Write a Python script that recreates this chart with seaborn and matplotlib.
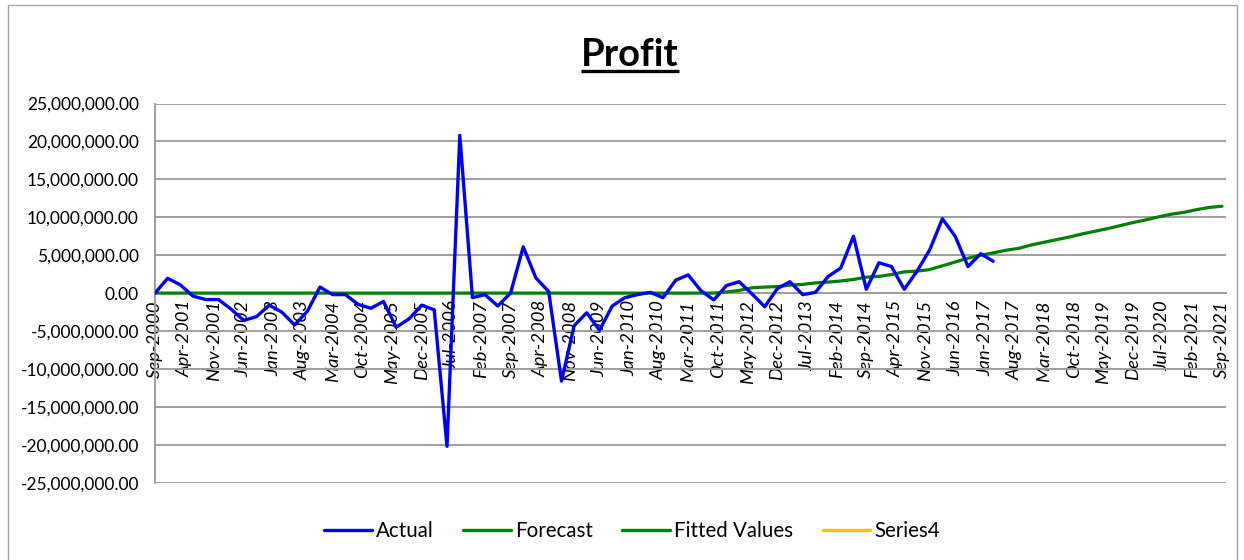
import matplotlib
matplotlib.use("Agg")
import matplotlib.pyplot as plt
import matplotlib.dates as mdates
from matplotlib.lines import Line2D
from matplotlib.patches import Rectangle
from matplotlib.ticker import FuncFormatter, MultipleLocator, FixedLocator, FixedFormatter
import seaborn as sns
import pandas as pd
import numpy as np

# ---- data (values in millions) ----
actual = [0.0, 1.95, 1.1, -0.4, -0.85, -0.85, -2.1, -3.6, -3.1, -1.6,
          -2.5, -4.2, -2.4, 0.8, -0.2, -0.2, -1.5, -2.0, -1.1, -4.5,
          -3.4, -1.6, -2.2, -20.2, 20.8, -0.6, -0.2, -1.7, 0.0, 6.1,
          2.0, 0.2, -11.6, -4.3, -2.6, -4.9, -1.7, -0.6, -0.2, 0.1,
          -0.6, 1.7, 2.4, 0.3, -0.9, 1.0, 1.5, -0.1, -1.8, 0.6,
          1.5, -0.2, 0.1, 2.2, 3.3, 7.5, 0.5, 4.0, 3.5, 0.5,
          2.9, 5.7, 9.8, 7.5, 3.5, 5.2, 4.2]

fitted = [0.0] * 45 + [0.15, 0.35, 0.7, 0.8, 0.85, 1.05, 1.15, 1.35, 1.45, 1.6,
                       1.8, 2.1, 2.2, 2.45, 2.8, 2.9, 3.1, 3.6, 4.1, 4.6,
                       5.0, 5.3]

forecast = [5.3, 5.65, 5.9, 6.35, 6.7, 7.05, 7.4, 7.8, 8.15, 8.5,
            8.9, 9.3, 9.65, 10.05, 10.4, 10.65, 11.0, 11.3, 11.45]

series4 = []

tick_labels = ["Sep-2000", "Apr-2001", "Nov-2001", "Jun-2002", "Jan-2003", "Aug-2003",
               "Mar-2004", "Oct-2004", "May-2005", "Dec-2005", "Jul-2006", "Feb-2007",
               "Sep-2007", "Apr-2008", "Nov-2008", "Jun-2009", "Jan-2010", "Aug-2010",
               "Mar-2011", "Oct-2011", "May-2012", "Dec-2012", "Jul-2013", "Feb-2014",
               "Sep-2014", "Apr-2015", "Nov-2015", "Jun-2016", "Jan-2017", "Aug-2017",
               "Mar-2018", "Oct-2018", "May-2019", "Dec-2019", "Jul-2020", "Feb-2021",
               "Sep-2021"]

quarters = pd.date_range("2000-09-01", "2021-09-01", freq="3MS")

df_actual = pd.DataFrame({"date": quarters[:len(actual)], "value": np.array(actual) * 1e6})
df_fitted = pd.DataFrame({"date": quarters[:len(fitted)], "value": np.array(fitted) * 1e6})
df_forecast = pd.DataFrame({"date": quarters[len(fitted) - 1:], "value": np.array(forecast) * 1e6})

# ---- style ----
sns.set_style("white")
plt.rcParams["font.family"] = ["Lato", "DejaVu Sans"]
plt.rcParams["text.color"] = "black"

W, H = 1244, 560
fig = plt.figure(figsize=(W / 100, H / 100), dpi=100)

left_px, right_px, top_px, bottom_px = 155, 1226, 103.5, 482.7
ax = fig.add_axes([left_px / W, 1 - bottom_px / H,
                   (right_px - left_px) / W, (bottom_px - top_px) / H])

grid_c = "#9e9e9e"

sns.lineplot(data=df_actual, x="date", y="value", ax=ax, color="#0000FF",
             linewidth=2.4, estimator=None, zorder=4)
sns.lineplot(data=df_forecast, x="date", y="value", ax=ax, color="#008000",
             linewidth=2.3, estimator=None, zorder=3)
sns.lineplot(data=df_fitted, x="date", y="value", ax=ax, color="#008000",
             linewidth=2.3, estimator=None, zorder=3)
if ax.get_legend():
    ax.get_legend().remove()

# axis frame: horizontal axis crosses at zero
ax.spines["bottom"].set_position(("data", 0))
for s in ["top", "right"]:
    ax.spines[s].set_visible(False)
for s in ["left", "bottom"]:
    ax.spines[s].set_color(grid_c)
    ax.spines[s].set_linewidth(1.4)

# y axis
ax.set_ylim(-25e6, 25e6)
ax.yaxis.set_major_locator(MultipleLocator(5e6))
ax.yaxis.set_major_formatter(FuncFormatter(lambda v, p: f"{v:,.2f}"))
ax.yaxis.grid(True, color=grid_c, linewidth=1.4)
ax.tick_params(axis="y", direction="out", length=3.6, width=1.2, color=grid_c,
               pad=8, labelsize=12.5, labelcolor="black")

# x axis (monthly date scale, labels every seven months)
t0 = mdates.date2num(pd.Timestamp("2000-09-01"))
t1 = mdates.date2num(pd.Timestamp("2021-09-01"))
ax.set_xlim(t0, t1 + (t1 - t0) * 4 / 1067)
tick_dates = pd.to_datetime(tick_labels, format="%b-%Y")
ax.xaxis.set_major_locator(FixedLocator(mdates.date2num(tick_dates)))
ax.xaxis.set_major_formatter(FixedFormatter(tick_labels))
ax.tick_params(axis="x", direction="out", length=3.6, width=1.2, color=grid_c,
               pad=1.5, labelcolor="black", labelsize=13.3, labelrotation=90)
ax.set_xlabel("")
ax.set_ylabel("")

fig.canvas.draw()
for lab in ax.get_xticklabels():
    lab.set_fontstyle("italic")

# title with underline
title = fig.text(630 / W, 1 - 66 / H, "Profit", ha="center", va="baseline",
                 fontsize=27.5, fontweight="bold", color="black")
fig.canvas.draw()
bb = title.get_window_extent(fig.canvas.get_renderer())
uy = 1 - 71 / H
fig.add_artist(Line2D([bb.x0 / W, bb.x1 / W], [uy, uy], transform=fig.transFigure,
                      color="black", linewidth=2.4, solid_capstyle="butt"))

# chart border
fig.add_artist(Rectangle((8 / W, -0.01), (1237 - 8) / W, (H - 5) / H + 0.01,
                         transform=fig.transFigure, fill=False,
                         edgecolor="#a6a6a6", linewidth=1))

# legend
handles = [Line2D([], [], color="#0000FF", linewidth=2.4),
           Line2D([], [], color="#008000", linewidth=2.4),
           Line2D([], [], color="#008000", linewidth=2.4),
           Line2D(series4, series4, color="#FFC000", linewidth=2.4)]
labels = ["Actual", "Forecast", "Fitted Values", "Series4"]
leg = fig.legend(handles, labels, loc="center", bbox_to_anchor=(632 / W, 1 - 531 / H),
                 ncol=4, frameon=False, fontsize=14.8, handlelength=2.3,
                 handletextpad=0.2, columnspacing=1.45)
for t in leg.get_texts():
    t.set_color("black")

fig.savefig("out.png", dpi=100)
